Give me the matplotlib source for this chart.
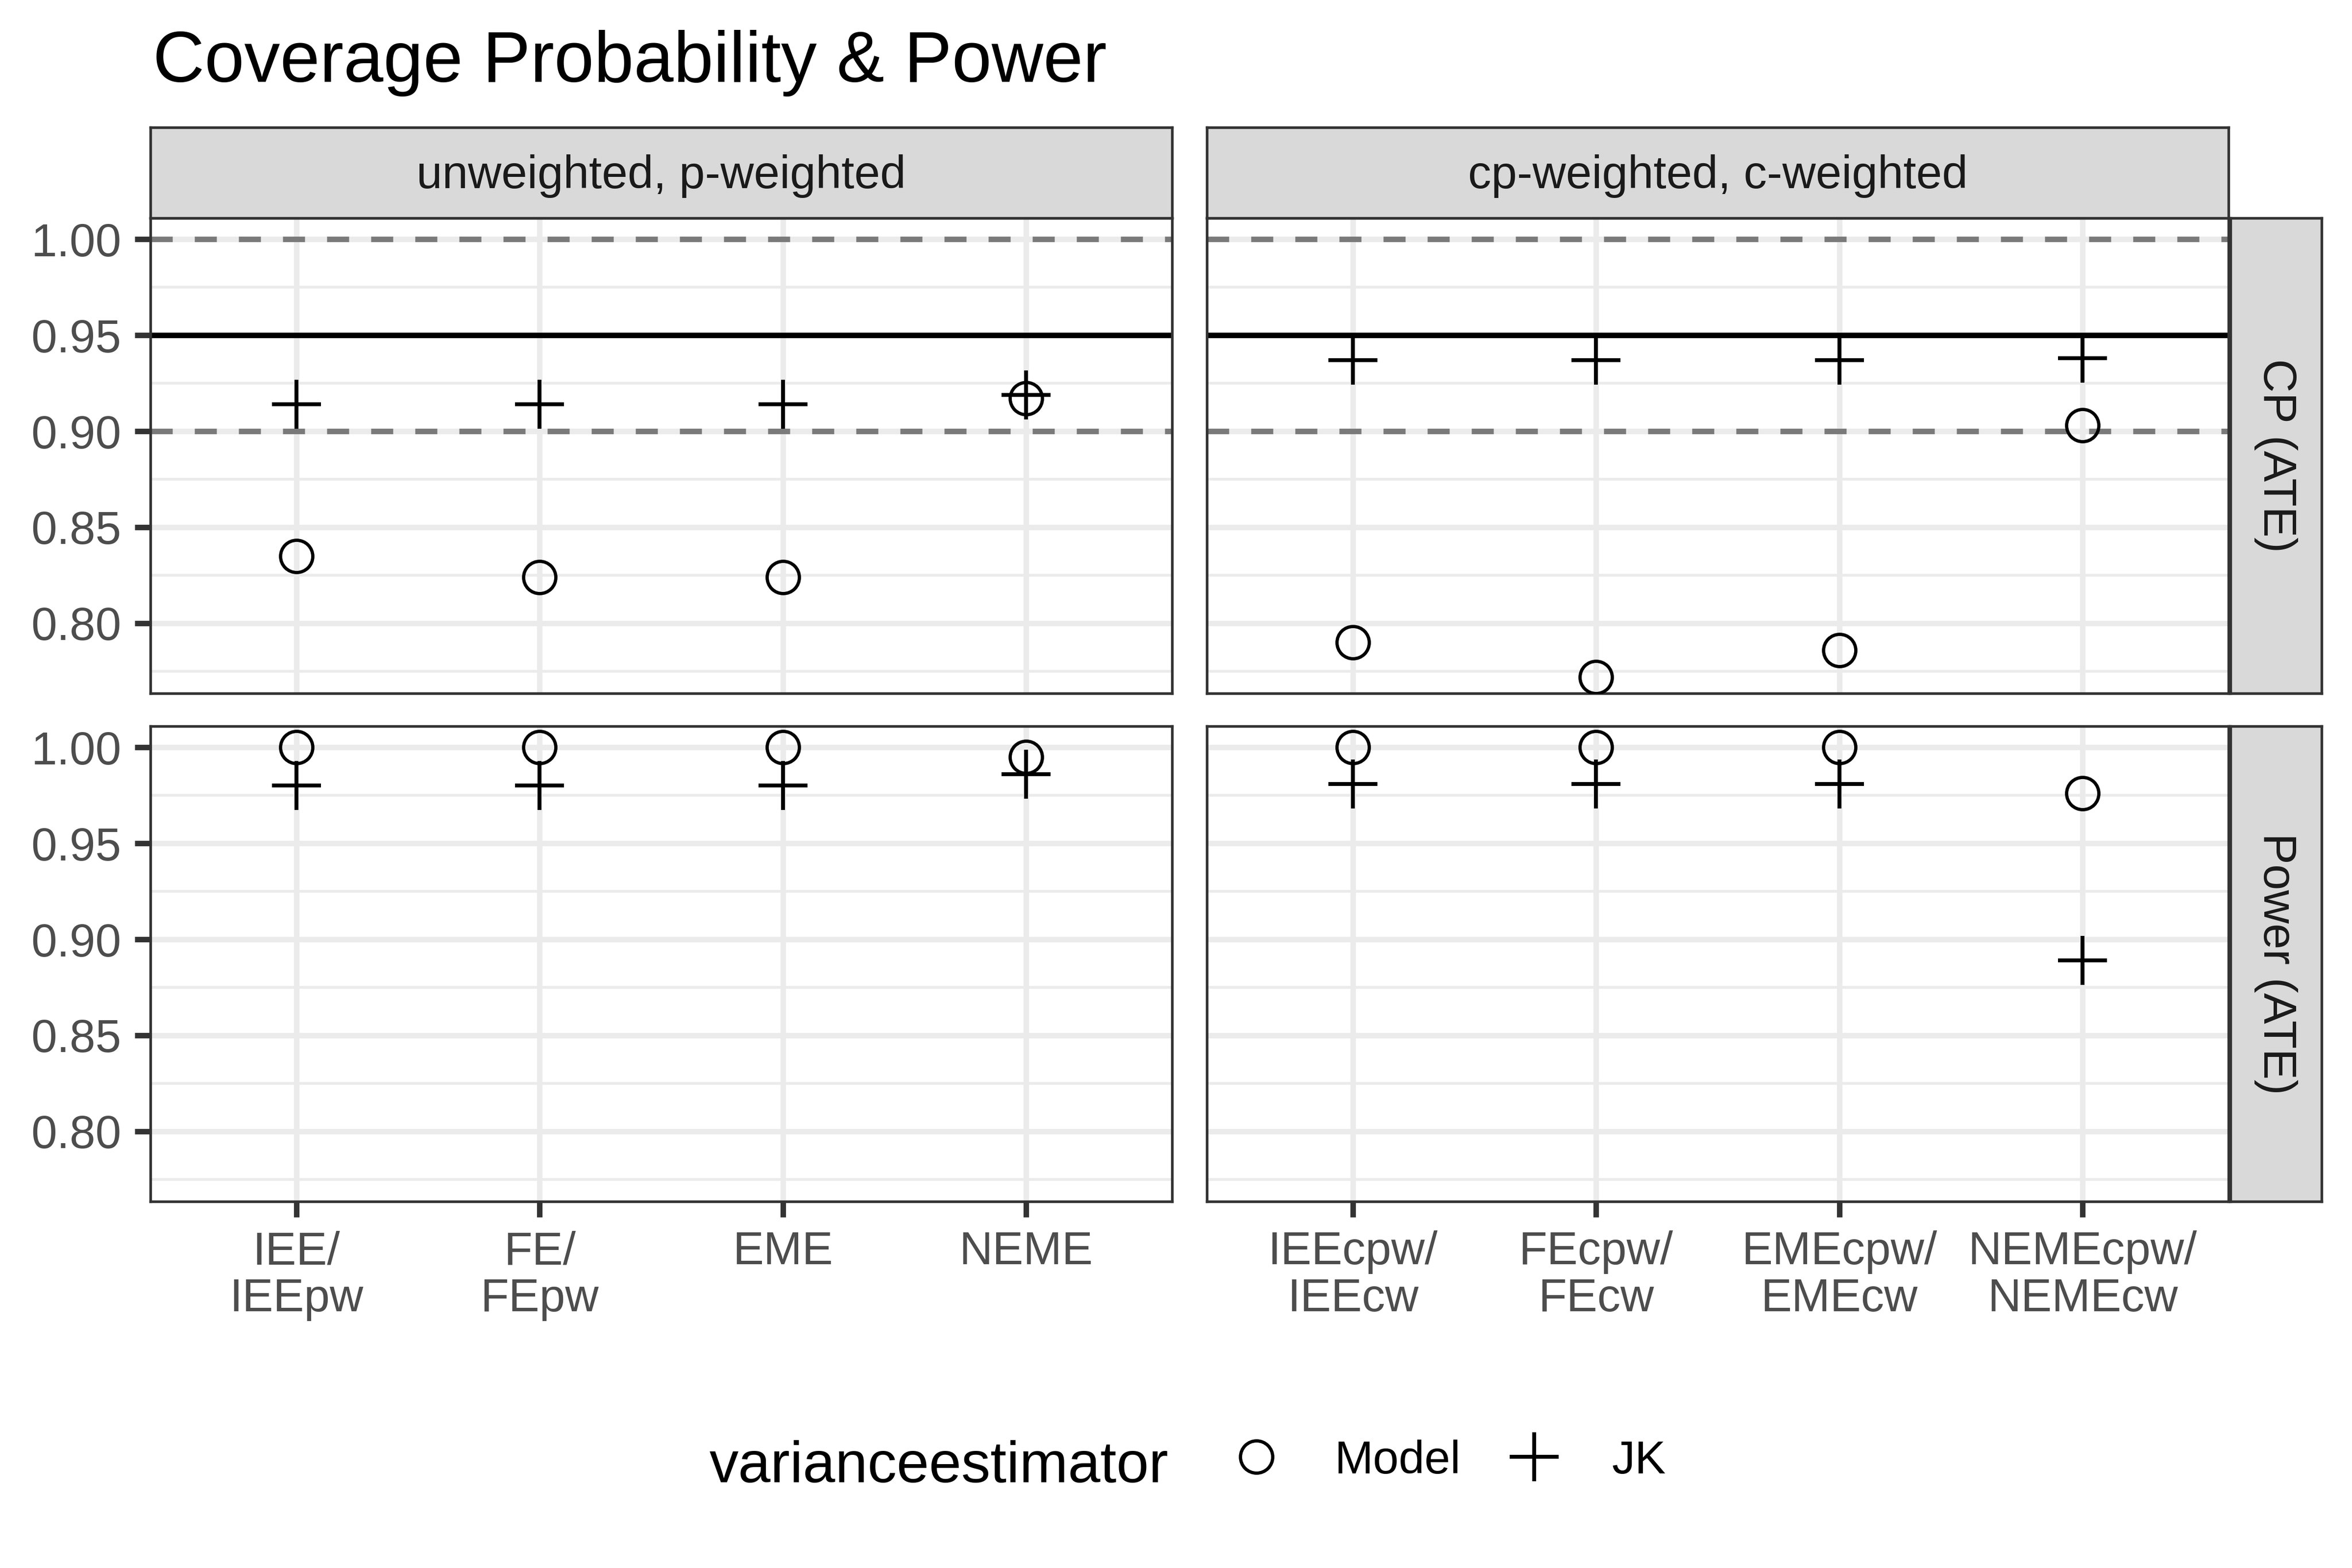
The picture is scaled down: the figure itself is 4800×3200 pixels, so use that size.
import numpy as np
import matplotlib
matplotlib.use("Agg")
import matplotlib.pyplot as plt
from matplotlib.lines import Line2D

plt.rcParams["font.family"] = ["Liberation Sans", "DejaVu Sans"]

# ---------------------------------------------------------------------------
# Data
# ---------------------------------------------------------------------------
LABELS_LEFT = ["IEE/\nIEEpw", "FE/\nFEpw", "EME", "NEME"]
LABELS_RIGHT = ["IEEcpw/\nIEEcw", "FEcpw/\nFEcw", "EMEcpw/\nEMEcw", "NEMEcpw/\nNEMEcw"]
COLS = ["unweighted, p-weighted", "cp-weighted, c-weighted"]
ROWS = ["CP (ATE)", "Power (ATE)"]
ESTIMATORS = ["Model", "JK"]

cp_model_left  = [0.835, 0.824, 0.824, 0.917]
cp_jk_left     = [0.914, 0.914, 0.914, 0.919]
cp_model_right = [0.790, 0.772, 0.786, 0.903]
cp_jk_right    = [0.937, 0.937, 0.937, 0.938]
pw_model_left  = [1.000, 1.000, 1.000, 0.995]
pw_jk_left     = [0.980, 0.980, 0.980, 0.986]
pw_model_right = [1.000, 1.000, 1.000, 0.976]
pw_jk_right    = [0.981, 0.981, 0.981, 0.889]

NOMINAL = 0.95
BAND = [0.90, 1.00]
YTICKS = [0.80, 0.85, 0.90, 0.95, 1.00]
YMINOR = [0.775, 0.825, 0.875, 0.925, 0.975]

# ---------------------------------------------------------------------------
# Style
# ---------------------------------------------------------------------------
BORDER = "#333333"
GRID = "#EBEBEB"
TICKTXT = "#4D4D4D"
STRIP = "#D9D9D9"
FS = 22.7

W, H = 4800, 3200
fig = plt.figure(figsize=(W / 300, H / 300), dpi=300, facecolor="white")

def fx(px): return px / W
def fy(px): return 1 - px / H

col_x = [(307, 2392), (2463, 4548)]
row_y = [(445, 1415), (1482, 2452)]

data = {
    (0, 0): (cp_model_left, cp_jk_left),
    (0, 1): (cp_model_right, cp_jk_right),
    (1, 0): (pw_model_left, pw_jk_left),
    (1, 1): (pw_model_right, pw_jk_right),
}
xlabels = [LABELS_LEFT, LABELS_RIGHT]

model_kw = dict(ls="none", marker="o", mfc="none", mec="black", ms=15.8, mew=1.6)
jk_kw = dict(ls="none", marker="+", mec="black", ms=24, mew=1.9)

for r in range(2):
    for c in range(2):
        x0, x1 = col_x[c]
        yt, yb = row_y[r]
        ax = fig.add_axes([fx(x0), fy(yb), fx(x1 - x0), (yb - yt) / H])
        xs = np.arange(4)
        ax.set_xlim(-0.6, 3.6)
        ax.set_ylim(0.7635, 1.011)
        ax.set_yticks(YTICKS)
        ax.set_yticks(YMINOR, minor=True)
        ax.set_xticks(xs)
        ax.set_axisbelow(True)
        ax.grid(which="major", axis="both", color=GRID, lw=2.7)
        ax.grid(which="minor", axis="y", color=GRID, lw=1.35)
        for sp in ax.spines.values():
            sp.set_edgecolor(BORDER)
            sp.set_linewidth(1.3)
        ax.tick_params(which="minor", length=0)
        ax.tick_params(which="major", length=7.7, width=2.7, color=BORDER,
                       labelsize=FS, labelcolor=TICKTXT, pad=6.5)

        if r == 0:
            for b in BAND:
                ax.axhline(b, color="#7A7A7A", lw=2.7, ls=(0, (4, 4)), zorder=2)
            ax.axhline(NOMINAL, color="black", lw=2.7, zorder=2)

        model, jk = data[(r, c)]
        ax.plot(xs, model, zorder=3, **model_kw)
        ax.plot(xs, jk, zorder=4, **jk_kw)

        if r == 1:
            ax.set_xticklabels(xlabels[c], linespacing=1.1)
        else:
            ax.tick_params(axis="x", length=0, labelbottom=False)
        if c == 0:
            ax.set_yticklabels([f"{v:.2f}" for v in YTICKS])
        else:
            ax.tick_params(axis="y", length=0, labelleft=False)

# facet strips
def strip(rect, text, rot=0):
    s = fig.add_axes(rect)
    s.set_facecolor(STRIP)
    s.set_xticks([]); s.set_yticks([])
    for sp in s.spines.values():
        sp.set_edgecolor(BORDER)
        sp.set_linewidth(1.3)
    pos = (0.5, 0.46) if rot == 0 else (0.5, 0.5)
    s.text(*pos, text, transform=s.transAxes, ha="center", va="center",
           rotation=rot, fontsize=FS, color="#1A1A1A")

for c in range(2):
    x0, x1 = col_x[c]
    strip([fx(x0), fy(445), fx(x1 - x0), 185 / H], COLS[c])
for r in range(2):
    yt, yb = row_y[r]
    strip([fx(4552), fy(yb), fx(186), (yb - yt) / H], ROWS[r], rot=-90)

# title
fig.text(fx(312), fy(167), "Coverage Probability & Power", fontsize=35,
         color="black", ha="left", va="baseline")

# legend
fig.text(fx(1448), fy(3025), "varianceestimator", fontsize=28.5,
         color="black", ha="left", va="baseline")
handles = [Line2D([], [], **model_kw), Line2D([], [], **jk_kw)]
fig.legend(handles, ESTIMATORS, loc="center left",
           bbox_to_anchor=(fx(2493), fy(2982)), ncol=2, frameon=False,
           fontsize=FS, handlelength=1.5, handletextpad=0.93,
           columnspacing=0.84, borderpad=0, borderaxespad=0)

fig.savefig("out.png", dpi=300, facecolor="white")
